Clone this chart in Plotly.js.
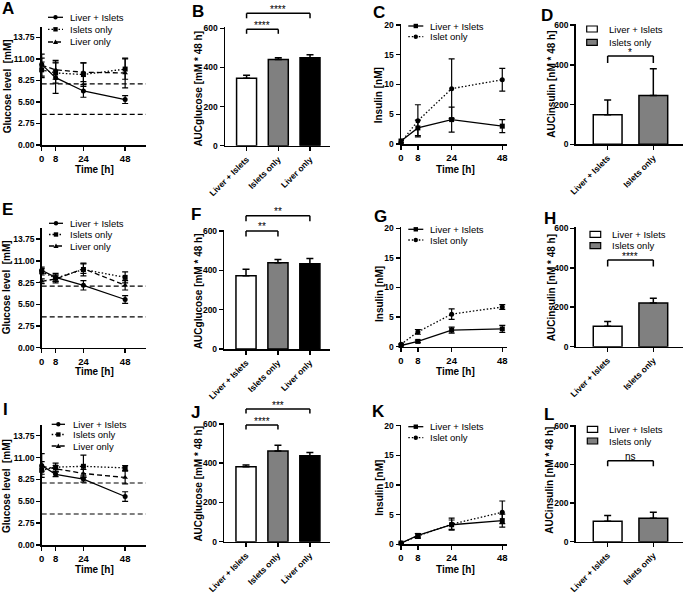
<!DOCTYPE html>
<html><head><meta charset="utf-8">
<script src="https://cdn.plot.ly/plotly-3.0.1.min.js"></script>
<style>html,body{margin:0;padding:0;background:#fff;}#chart{width:685px;height:593px;}</style>
</head><body><div id="chart"></div>
<script>
// ================= DATA =================
const timePoints = [0, 8, 24, 48];
const glucoseTicks = [0, 2.75, 5.5, 8.25, 11, 13.75];
const insulinTicks = [0, 5, 10, 15, 20];
const aucTicks = [0, 200, 400, 600];
const refLevels = [7.8, 3.9];
const aucGlucGroups = ['Liver + Islets', 'Islets only', 'Liver only'];
const aucInsGroups = ['Liver + Islets', 'Islets only'];

// Row 1 — glucose (A)
const glucA_LI = [10.3, 8.6, 6.9, 5.8];
const glucA_LI_err = [0.8, 2.0, 0.8, 0.5];
const glucA_IO = [9.6, 9.2, 9.0, 9.7];
const glucA_IO_err = [1.0, 1.3, 1.5, 1.3];
const glucA_LO = [10.2, 9.6, 9.3, 9.2];
const glucA_LO_err = [1.4, 1.2, 1.2, 1.9];
// Row 2 — glucose (E)
const glucE_LI = [9.8, 8.9, 7.9, 6.1];
const glucE_LI_err = [0.4, 0.5, 0.6, 0.5];
const glucE_IO = [9.6, 8.8, 9.9, 8.9];
const glucE_IO_err = [0.4, 0.4, 0.8, 0.7];
const glucE_LO = [8.4, 8.7, 10.0, 7.9];
const glucE_LO_err = [0.3, 0.5, 0.6, 0.6];
// Row 3 — glucose (I)
const glucI_LI = [10.0, 8.9, 8.3, 6.1];
const glucI_LI_err = [1.5, 0.3, 0.4, 0.6];
const glucI_IO = [9.4, 9.8, 9.9, 9.7];
const glucI_IO_err = [0.5, 0.5, 1.4, 0.3];
const glucI_LO = [9.9, 9.6, 9.0, 8.5];
const glucI_LO_err = [0.6, 0.4, 0.5, 0.8];

// AUC glucose (B, F, J)
const aucGlucB = [345, 440, 450];
const aucGlucB_err = [15, 10, 15];
const aucGlucF = [373, 438, 434];
const aucGlucF_err = [32, 17, 26];
const aucGlucJ = [382, 462, 438];
const aucGlucJ_err = [9, 30, 16];

// Insulin (C, G, K)
const insC_LI = [0.5, 2.7, 4.1, 3.0];
const insC_LI_err = [0.3, 1.3, 2.1, 1.1];
const insC_IO = [0.3, 3.9, 9.3, 10.8];
const insC_IO_err = [0.3, 2.7, 5.0, 1.9];
const insG_LI = [0.2, 0.9, 2.8, 3.0];
const insG_LI_err = [0.1, 0.2, 0.5, 0.6];
const insG_IO = [0.4, 2.5, 5.5, 6.7];
const insG_IO_err = [0.2, 0.4, 0.9, 0.4];
const insK_LI = [0.2, 1.5, 3.3, 4.0];
const insK_LI_err = [0.1, 0.3, 0.8, 1.1];
const insK_IO = [0.2, 1.4, 3.4, 5.4];
const insK_IO_err = [0.1, 0.4, 1.0, 1.9];

// AUC insulin (D, H, L)
const aucInsD = [148, 245];
const aucInsD_err = [75, 135];
const aucInsH = [104, 221];
const aucInsH_err = [24, 25];
const aucInsL = [106, 122];
const aucInsL_err = [30, 31];

// significance labels
const sigB = ['****', '****'];
const sigF = ['**', '**'];
const sigJ = ['****', '***'];
const sigD = '*';
const sigH = '****';
const sigL = 'ns';

// ================= LAYOUT HELPERS =================
const W = 685, H = 593;
const P = px => px / W;
const Q = py => 1 - py / H;
const FONT = 'Liberation Sans, Arial, Helvetica, sans-serif';

const panels = {
  A: {n:1, l:41.7, r:146, b:145, t:26.6},
  B: {n:2, l:225, r:330, b:145.7, t:27.1},
  C: {n:3, l:401, r:506.5, b:144, t:23.8},
  D: {n:4, l:575.7, r:683, b:144.3, t:23.8},
  E: {n:5, l:41.7, r:146, b:347.7, t:228.2},
  F: {n:6, l:224.3, r:330, b:349, t:229.8},
  G: {n:7, l:401, r:506.5, b:346.7, t:227.1},
  H: {n:8, l:575.7, r:683, b:346.7, t:227.1},
  I: {n:9, l:41.7, r:146, b:545, t:424.8},
  J: {n:10, l:224.3, r:330, b:541.7, t:422.8},
  K: {n:11, l:401, r:506.5, b:544.3, t:424.5},
  L: {n:12, l:575.7, r:683, b:541.7, t:424.9}
};
const sfx = n => (n === 1 ? '' : String(n));

const layout = {
  width: W, height: H,
  margin: {l:0, r:0, t:0, b:0},
  paper_bgcolor: '#fff', plot_bgcolor: 'rgba(0,0,0,0)',
  showlegend: false,
  font: {family: FONT, color: '#000'},
  shapes: [], annotations: []
};
const traces = [];

const axisBase = {
  showline: true, linecolor: '#000', linewidth: 1.5,
  ticks: 'outside', ticklen: 4, tickwidth: 1.5, tickcolor: '#000',
  showgrid: false, zeroline: false, fixedrange: true
};

function setAxes(key, xCfg, yCfg) {
  const p = panels[key], s = sfx(p.n);
  layout['xaxis' + s] = Object.assign({}, axisBase, {
    domain: [P(p.l), P(p.r)], anchor: 'y' + s
  }, xCfg);
  layout['yaxis' + s] = Object.assign({}, axisBase, {
    domain: [Q(p.b), Q(p.t)], anchor: 'x' + s
  }, yCfg);
}

const tfY = {family: FONT, size: 8.5, weight: 'bold', color: '#000'};
const tfX = {family: FONT, size: 9.5, weight: 'bold', color: '#000'};
const tfXcat = {family: FONT, size: 8.5, weight: 'bold', color: '#000'};

const timeX = (rng) => ({range: rng, tickmode: 'array', tickvals: timePoints, tickfont: tfX});
const glucY = {range: [0, 15.125], tickmode: 'array', tickvals: glucoseTicks, tickformat: '.2f', tickfont: tfY};
const insY = {range: [0, 20.2], tickmode: 'array', tickvals: insulinTicks, tickfont: tfY};
const aucY = {range: [0, 606], tickmode: 'array', tickvals: aucTicks, tickfont: tfY};
const catX = (cats, rng) => ({type: 'category', categoryorder: 'array', categoryarray: cats,
  range: rng, tickangle: -45, tickfont: tfXcat});

const DASH = {solid: 'solid', dot: '1.5px,2px', dash: '5px,3px'};

function lineTrace(key, y, err, dash, symbol) {
  const s = sfx(panels[key].n);
  traces.push({
    type: 'scatter', mode: 'lines+markers', x: timePoints, y: y,
    xaxis: 'x' + s, yaxis: 'y' + s, cliponaxis: false, hoverinfo: 'skip',
    line: {color: '#000', width: 1.3, dash: DASH[dash]},
    marker: {color: '#000', size: 5, symbol: symbol},
    error_y: {type: 'data', array: err, visible: true, color: '#000', thickness: 1.2, width: 3}
  });
}
function barTrace(key, cats, y, err, colors) {
  const s = sfx(panels[key].n);
  traces.push({
    type: 'bar', x: cats, y: y, width: 0.63,
    xaxis: 'x' + s, yaxis: 'y' + s, hoverinfo: 'skip',
    marker: {color: colors, line: {color: '#000', width: 1.5}},
    error_y: {type: 'data', symmetric: false, array: err, arrayminus: err.map(() => 0),
      visible: true, color: '#000', thickness: 1.5, width: 3.5}
  });
}
function refLines(key) {
  const s = sfx(panels[key].n);
  refLevels.forEach(v => layout.shapes.push({
    type: 'line', xref: 'x' + s + ' domain', yref: 'y' + s,
    x0: 0, x1: 1, y0: v, y1: v, line: {color: '#000', width: 1.2, dash: '5px,3px'}
  }));
}
function bracket(key, i0, i1, yTopPx, dropPx, label) {
  const s = sfx(panels[key].n);
  const yt = Q(yTopPx), yd = Q(yTopPx + dropPx);
  const ln = {color: '#000', width: 1.5};
  layout.shapes.push({type: 'line', xref: 'x' + s, yref: 'paper', x0: i0, x1: i1, y0: yt, y1: yt, line: ln});
  layout.shapes.push({type: 'line', xref: 'x' + s, yref: 'paper', x0: i0, x1: i0, y0: yt, y1: yd, line: ln});
  layout.shapes.push({type: 'line', xref: 'x' + s, yref: 'paper', x0: i1, x1: i1, y0: yt, y1: yd, line: ln});
  layout.annotations.push({xref: 'x' + s, yref: 'paper', x: (i0 + i1) / 2, y: Q(yTopPx - 4),
    text: label, showarrow: false, xanchor: 'center', yanchor: 'middle',
    font: {family: FONT, size: 10, color: '#000000'}});
}
function text(xpx, ypx, str, opts) {
  layout.annotations.push(Object.assign({xref: 'paper', yref: 'paper', x: P(xpx), y: Q(ypx),
    text: str, showarrow: false, xanchor: 'center', yanchor: 'middle',
    font: {family: FONT, size: 10, weight: 'bold', color: '#000'}}, opts || {}));
}
function legLine(x0, x1, ypx, dash, symbol, label, tx) {
  layout.shapes.push({type: 'line', xref: 'paper', yref: 'paper', x0: P(x0), x1: P(x1), y0: Q(ypx), y1: Q(ypx),
    line: {color: '#000', width: 1.3, dash: DASH[dash]}});
  const cx = (x0 + x1) / 2, r = 2.2;
  const base = {xref: 'paper', yref: 'paper', fillcolor: '#000', line: {width: 0}};
  if (symbol === 'circle') layout.shapes.push(Object.assign({type: 'circle', x0: P(cx - r), x1: P(cx + r), y0: Q(ypx + r), y1: Q(ypx - r)}, base));
  else if (symbol === 'square') layout.shapes.push(Object.assign({type: 'rect', x0: P(cx - r), x1: P(cx + r), y0: Q(ypx + r), y1: Q(ypx - r)}, base));
  else layout.shapes.push(Object.assign({type: 'path',
    path: `M ${P(cx - 2.6)},${Q(ypx + 2)} L ${P(cx + 2.6)},${Q(ypx + 2)} L ${P(cx)},${Q(ypx - 2.6)} Z`}, base));
  text(tx, ypx, label, {xanchor: 'left', font: {family: FONT, size: 9.5, color: '#000'}});
}
function legBox(x0, x1, ypx, fill, label, tx) {
  layout.shapes.push({type: 'rect', xref: 'paper', yref: 'paper', x0: P(x0), x1: P(x1), y0: Q(ypx + 3), y1: Q(ypx - 3),
    fillcolor: fill, line: {color: '#000', width: 1.2}});
  text(tx, ypx, label, {xanchor: 'left', font: {family: FONT, size: 9.5, color: '#000'}});
}

// ================= BUILD =================
[['A', glucA_LI, glucA_LI_err, glucA_IO, glucA_IO_err, glucA_LO, glucA_LO_err],
 ['E', glucE_LI, glucE_LI_err, glucE_IO, glucE_IO_err, glucE_LO, glucE_LO_err],
 ['I', glucI_LI, glucI_LI_err, glucI_IO, glucI_IO_err, glucI_LO, glucI_LO_err]].forEach(r => {
  setAxes(r[0], timeX([0, 60]), glucY);
  refLines(r[0]);
  lineTrace(r[0], r[5], r[6], 'dash', 'triangle-up');
  lineTrace(r[0], r[3], r[4], 'dot', 'square');
  lineTrace(r[0], r[1], r[2], 'solid', 'circle');
});
const gColors = ['#ffffff', '#808080', '#000000'];
[['B', aucGlucB, aucGlucB_err], ['F', aucGlucF, aucGlucF_err], ['J', aucGlucJ, aucGlucJ_err]].forEach(r => {
  setAxes(r[0], catX(aucGlucGroups, [-0.68, 2.63]), aucY);
  barTrace(r[0], aucGlucGroups, r[1], r[2], gColors);
});
[['C', insC_LI, insC_LI_err, insC_IO, insC_IO_err],
 ['G', insG_LI, insG_LI_err, insG_IO, insG_IO_err],
 ['K', insK_LI, insK_LI_err, insK_IO, insK_IO_err]].forEach(r => {
  setAxes(r[0], timeX([0, 50]), insY);
  lineTrace(r[0], r[3], r[4], 'dot', 'circle');
  lineTrace(r[0], r[1], r[2], 'solid', 'square');
});
const iColors = ['#ffffff', '#808080'];
[['D', aucInsD, aucInsD_err], ['H', aucInsH, aucInsH_err], ['L', aucInsL, aucInsL_err]].forEach(r => {
  setAxes(r[0], catX(aucInsGroups, [-0.70, 1.65]), aucY);
  barTrace(r[0], aucInsGroups, r[1], r[2], iColors);
});

// significance brackets
bracket('B', 0, 1, 29.3, 4.5, sigB[0]);
bracket('B', 0, 2, 13.3, 5, sigB[1]);
bracket('F', 0, 1, 231, 5.5, sigF[0]);
bracket('F', 0, 2, 215.7, 5.5, sigF[1]);
bracket('J', 0, 1, 425, 4.5, sigJ[0]);
bracket('J', 0, 2, 409, 4.5, sigJ[1]);
bracket('D', 0, 1, 56, 7, sigD);
bracket('H', 0, 1, 260, 6.5, sigH);
bracket('L', 0, 1, 460.7, 5.5, sigL);

// axis titles
text(7.3, 86, 'Glucose level  [mM]', {textangle: -90});
text(7.3, 287, 'Glucose level  [mM]', {textangle: -90});
text(7, 486, 'Glucose level  [mM]', {textangle: -90});
text(94.3, 169, 'Time [h]');
text(94.3, 371.5, 'Time [h]');
text(94.8, 569, 'Time [h]');
text(198.3, 88.3, 'AUCglucose [mM * 48 h]', {textangle: -90});
text(198.3, 290.8, 'AUCglucose [mM * 48 h]', {textangle: -90});
text(198.3, 483.3, 'AUCglucose [mM * 48 h]', {textangle: -90});
text(379.3, 95, 'Insulin [nM]', {textangle: -90});
text(379.3, 293.7, 'Insulin [nM]', {textangle: -90});
text(379.3, 487.5, 'Insulin [nM]', {textangle: -90});
text(455, 169, 'Time [h]');
text(455, 371, 'Time [h]');
text(455, 569, 'Time [h]');
text(551.7, 84, 'AUCinsulin [nM * 48 h]', {textangle: -90});
text(551.7, 287.5, 'AUCinsulin [nM * 48 h]', {textangle: -90});
text(550, 480.8, 'AUCinsulin [nM * 48 h]', {textangle: -90});

// panel letters
const letterFont = {family: FONT, size: 17, weight: 'bold', color: '#000'};
[['A', 8, 9], ['B', 197.5, 11], ['C', 379, 13], ['D', 547, 16],
 ['E', 7.5, 209], ['F', 196, 214], ['G', 380, 216], ['H', 550, 219],
 ['I', 5, 409], ['J', 195, 412], ['K', 379, 411.5], ['L', 549, 414]].forEach(l =>
  text(l[1], l[2], l[0], {font: letterFont}));

// legends
function glucLegend(x0, x1, tx, ys) {
  legLine(x0, x1, ys[0], 'solid', 'circle', 'Liver + Islets', tx);
  legLine(x0, x1, ys[1], 'dot', 'square', 'Islets only', tx);
  legLine(x0, x1, ys[2], 'dash', 'triangle', 'Liver only', tx);
}
glucLegend(48, 63, 68.3, [17.3, 29.3, 42]);
glucLegend(49, 63, 68.3, [223.3, 234.5, 246]);
glucLegend(51.7, 65, 71, [424.3, 434.5, 446]);
function insLegend(ys) {
  legLine(408.3, 423.3, ys[0], 'solid', 'square', 'Liver + Islets', 428.3);
  legLine(408.3, 423.3, ys[1], 'dot', 'circle', 'Islet only', 428.3);
}
insLegend([26, 36.7]);
insLegend([229.3, 240]);
insLegend([426.7, 437.7]);
function aucLegend(x0, x1, tx, ys) {
  legBox(x0, x1, ys[0], '#ffffff', 'Liver + Islets', tx);
  legBox(x0, x1, ys[1], '#808080', 'Islets only', tx);
}
aucLegend(586.7, 597.3, 606.7, [29, 42.3]);
aucLegend(590, 600.7, 610, [234.3, 245.7]);
aucLegend(587.3, 597.7, 606.7, [429.3, 441]);

Plotly.newPlot('chart', traces, layout, {staticPlot: true, displayModeBar: false});
</script>
</body></html>
